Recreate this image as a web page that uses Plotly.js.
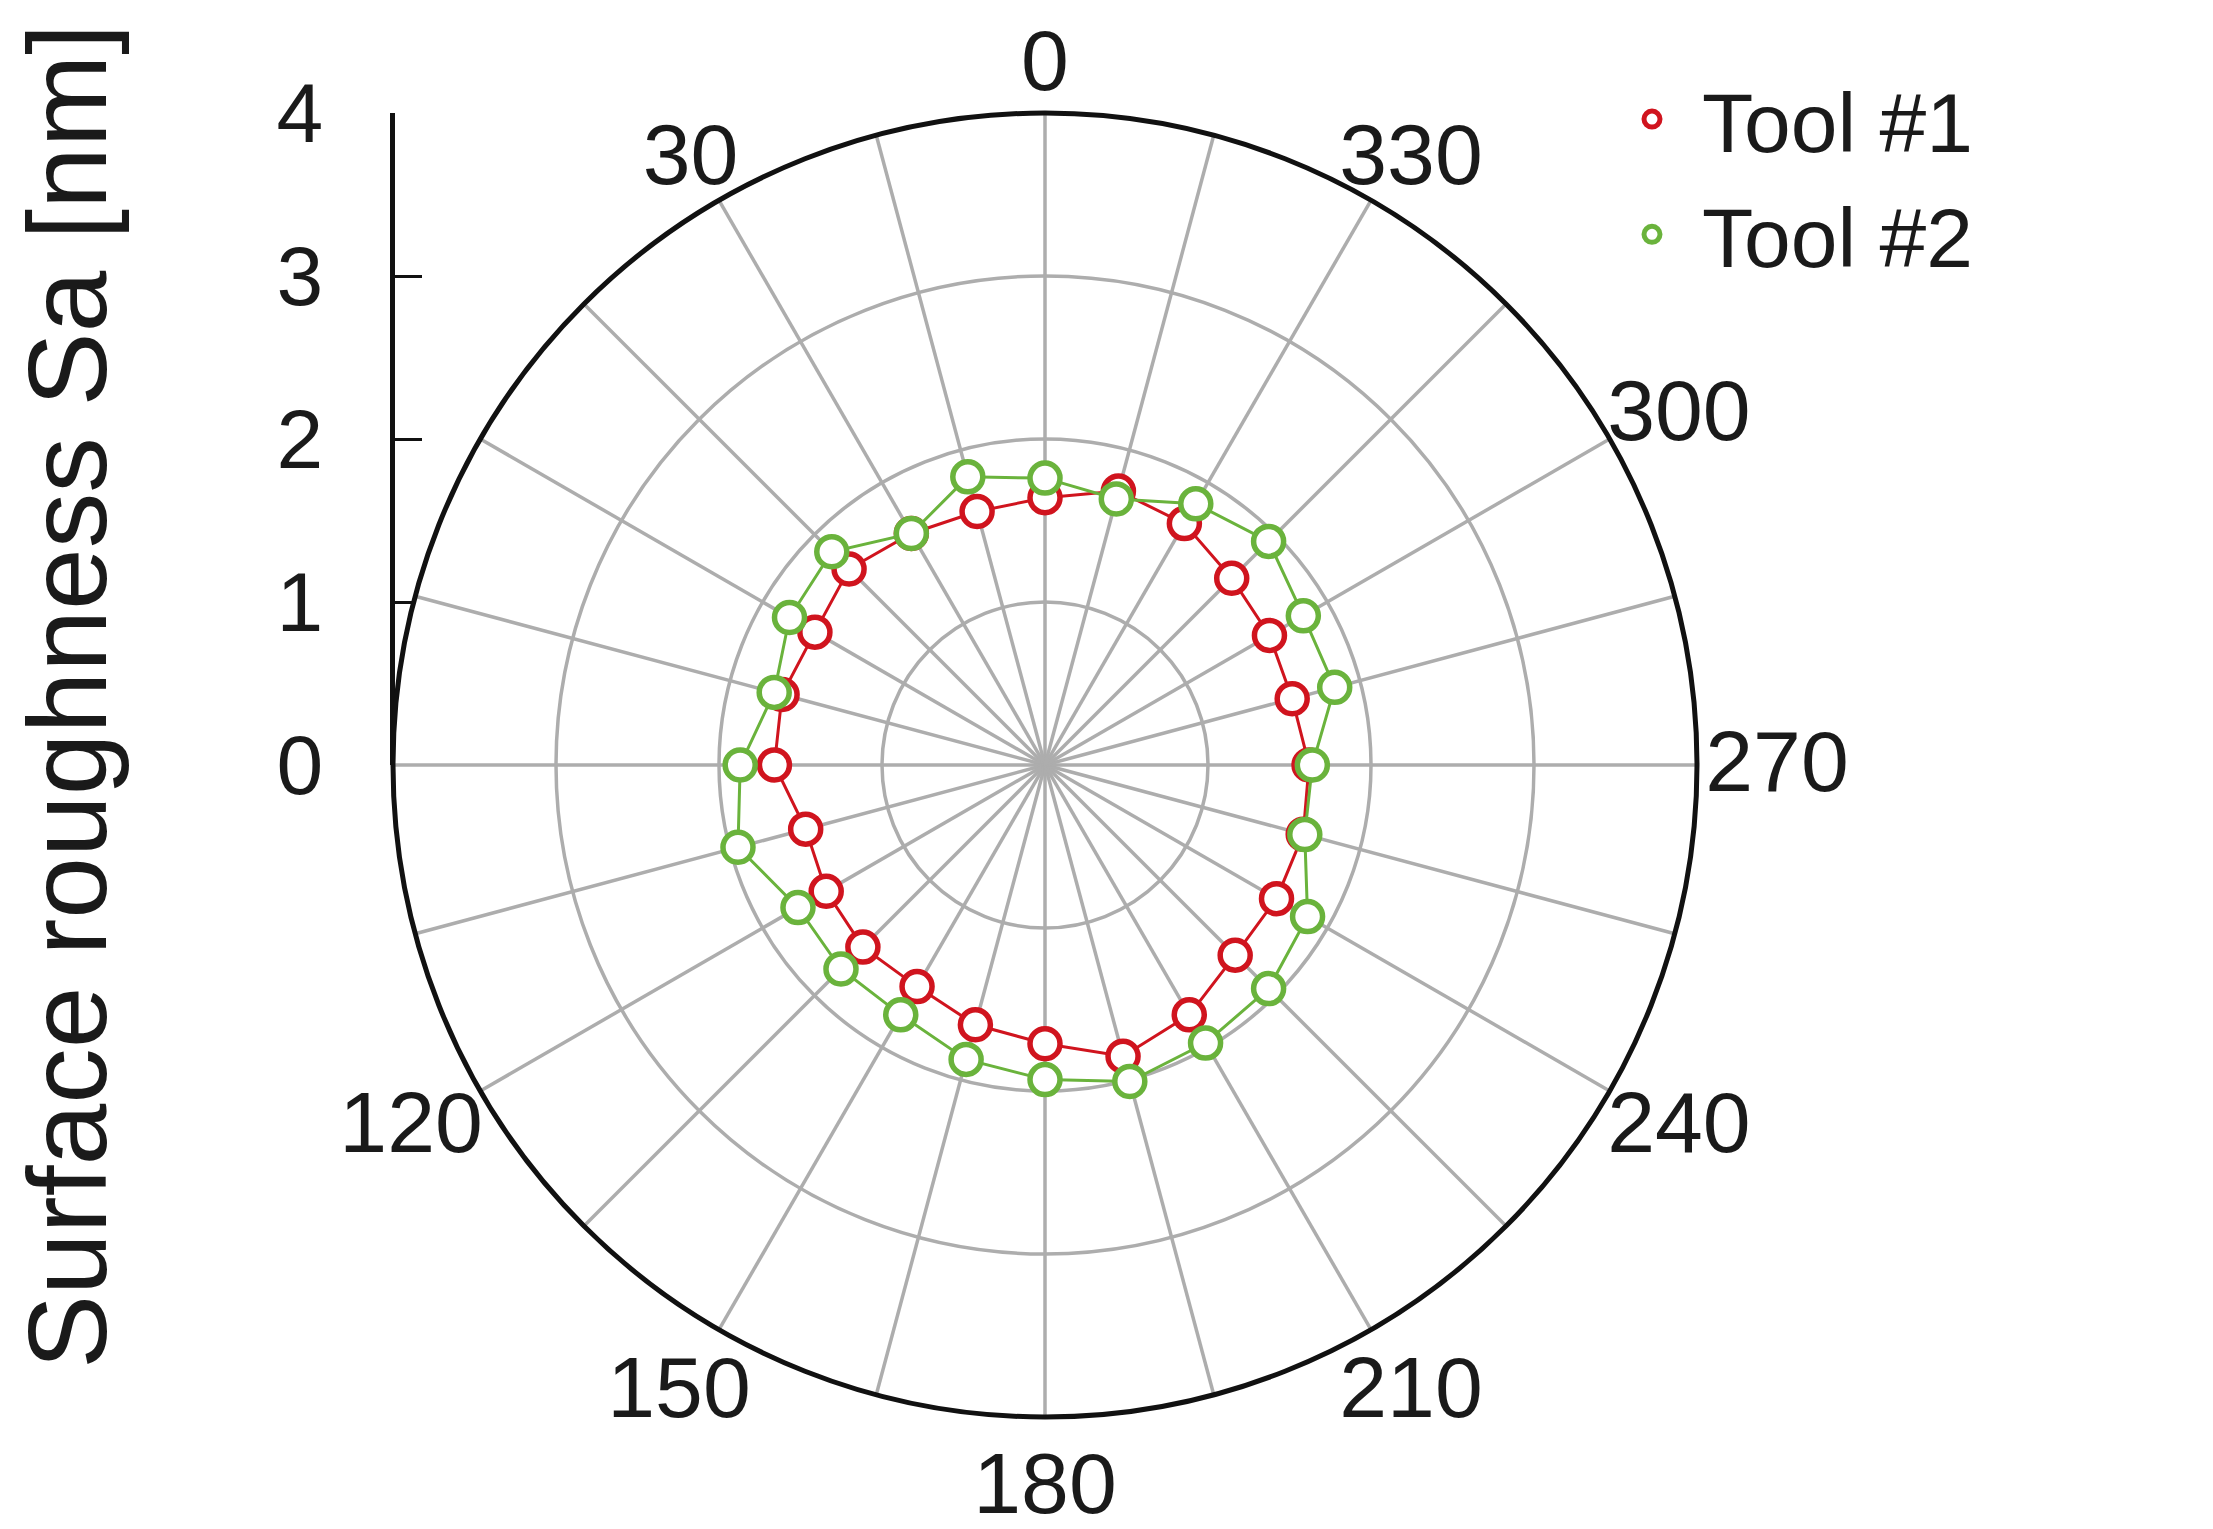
<!DOCTYPE html>
<html>
<head>
<meta charset="utf-8">
<script src="https://cdn.plot.ly/plotly-3.0.1.min.js"></script>
<style>html,body{margin:0;padding:0;background:#fff;}#chart{width:2213px;height:1529px;}</style>
</head>
<body>
<div id="chart"></div>
<script>
// Angles (degrees) of the measurement positions
const angles = [0,15,30,45,60,75,90,105,120,135,150,165,180,195,210,225,240,255,270,285,300,315,330,345];
// Surface roughness Sa [nm]
const tool1 = [1.64,1.61,1.64,1.70,1.63,1.67,1.66,1.52,1.55,1.58,1.57,1.65,1.71,1.85,1.77,1.65,1.64,1.64,1.62,1.57,1.59,1.62,1.71,1.74];
const tool2 = [1.76,1.83,1.64,1.85,1.81,1.72,1.87,1.95,1.75,1.77,1.77,1.87,1.93,2.01,1.97,1.94,1.86,1.65,1.64,1.84,1.83,1.94,1.85,1.69];
const seriesNames = ["Tool #1", "Tool #2"];
const angleTickVals = [0,15,30,45,60,75,90,105,120,135,150,165,180,195,210,225,240,255,270,285,300,315,330,345];
const angleTickText = ["0","","30","","","","","","120","","150","","180","","210","","240","","270","","300","","330",""];
const radialTicks = [0,1,2,3,4];

const RED = "#D0141E", GREEN = "#6AB33C";
const FONT = "Liberation Sans, Arial, Helvetica, sans-serif";
const W = 2213, H = 1529;
const cx = 1045, cy = 765, R = 652;
const RMAX = 4;
const RMAX2 = 4.6;            // outer (label) polar frame, same scale per unit
const R2 = R * RMAX2 / RMAX;
const LABEL_SIZE = 86;

function closed(a){ return a.concat([a[0]]); }

// angular tick labels placed just outside the outer circle (offset by label box extent)
const lblTheta = [], lblText = [], lblR = [];
angleTickText.forEach(function(t, i){
  if (!t) return;
  const th = angleTickVals[i] * Math.PI / 180;
  const hOff = 11 + 23 * t.length;              // horizontal clearance
  const vOff = Math.cos(th) >= 0 ? 50 : 70;     // vertical clearance
  const x = -Math.sin(th) * (R + hOff);
  const y =  Math.cos(th) * (R + vOff) - 5;
  lblR.push(RMAX * Math.hypot(x, y) / R);
  lblTheta.push(Math.atan2(-x, y) * 180 / Math.PI);
  lblText.push(t);
});

const traces = [
  {type:"scatterpolar", r: closed(tool1), theta: closed(angles), mode:"lines",
   line:{color:RED, width:3}, showlegend:false, hoverinfo:"skip"},
  {type:"scatterpolar", r: tool1, theta: angles, mode:"markers", name: seriesNames[0],
   legendgroup:"a",
   marker:{symbol:"circle", size:30, color:"#fff", line:{color:RED, width:5.5}}},
  {type:"scatterpolar", r: closed(tool2), theta: closed(angles), mode:"lines",
   line:{color:GREEN, width:3}, showlegend:false, hoverinfo:"skip"},
  {type:"scatterpolar", r: tool2, theta: angles, mode:"markers", name: seriesNames[1],
   legendgroup:"b",
   marker:{symbol:"circle", size:30, color:"#fff", line:{color:GREEN, width:5.5}}},
  {type:"scatterpolar", subplot:"polar2", r: lblR, theta: lblTheta, text: lblText, mode:"text",
   textposition:"middle center", cliponaxis:false, showlegend:false, hoverinfo:"skip",
   textfont:{family:FONT, size:LABEL_SIZE, color:"#1a1a1a"}},
  // carrier for the separate radial scale on the left
  {type:"scatter", x:[null], y:[null], xaxis:"x", yaxis:"y", showlegend:false, hoverinfo:"skip"}
];

const hiddenAngular = {rotation:90, direction:"counterclockwise", showline:false, showgrid:false,
  showticklabels:false, ticks:""};
const hiddenRadial = {range:[0,RMAX2], showline:false, showgrid:false, showticklabels:false, ticks:""};

const layout = {
  width: W, height: H,
  margin:{l:0,r:0,t:0,b:0},
  paper_bgcolor:"#fff",
  font:{family:FONT, color:"#1a1a1a", size:84},
  showlegend:true,
  legend:{x:1602/W, y:1-58/H, xanchor:"left", yanchor:"top",
          font:{family:FONT, size:84, color:"#1a1a1a"}, tracegroupgap:3,
          itemwidth:90, bgcolor:"rgba(0,0,0,0)", itemsizing:"trace"},
  polar:{
    domain:{x:[(cx-R)/W,(cx+R)/W], y:[1-(cy+R)/H, 1-(cy-R)/H]},
    bgcolor:"#fff",
    angularaxis:{rotation:90, direction:"counterclockwise",
      tickmode:"array", tickvals:angleTickVals, showticklabels:false,
      ticks:"", showline:true, linecolor:"#111", linewidth:5,
      showgrid:true, gridcolor:"#adadad", gridwidth:3.5},
    radialaxis:{range:[0,RMAX], tickmode:"array", tickvals:[1,2,3],
      showticklabels:false, ticks:"", showline:false,
      showgrid:true, gridcolor:"#adadad", gridwidth:3.5}
  },
  polar2:{
    domain:{x:[(cx-R2)/W,(cx+R2)/W], y:[1-(cy+R2)/H, 1-(cy-R2)/H]},
    bgcolor:"rgba(0,0,0,0)",
    angularaxis:hiddenAngular, radialaxis:hiddenRadial
  },
  xaxis:{domain:[(cx-R)/W, (cx-R+10)/W], visible:false, range:[0,1]},
  yaxis:{domain:[1-cy/H, 1-(cy-R)/H], anchor:"free", position:(cx-R-1)/W,
    range:[0,RMAX], tickmode:"array", tickvals:radialTicks,
    ticks:"inside", ticklen:27, tickwidth:3, tickcolor:"#111",
    showline:true, linecolor:"#111", linewidth:5,
    showgrid:false, zeroline:false, ticklabelstandoff:50,
    tickfont:{family:FONT, size:84, color:"#1a1a1a"}},
  annotations:[{text:"Surface roughness Sa [nm]", xref:"paper", yref:"paper",
    x:68/W, y:1-697/H, xanchor:"center", yanchor:"middle", textangle:-90,
    showarrow:false, font:{family:FONT, size:111, color:"#1a1a1a"}}]
};

Plotly.newPlot("chart", traces, layout, {displayModeBar:false, staticPlot:true});
</script>
</body>
</html>
